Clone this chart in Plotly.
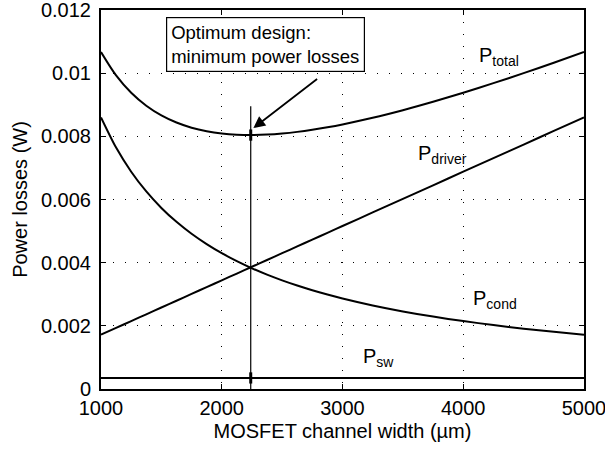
import plotly.graph_objects as go

# MOSFET channel width (um) and the loss components (W) read at each width
width_um = [1000, 1125, 1250, 1375, 1500, 1625, 1750, 1875, 2000, 2125, 2250, 2375, 2500,
            2625, 2750, 2875, 3000, 3250, 3500, 3750, 4000, 4250, 4500, 4750, 5000]
p_cond = [0.008600, 0.007644, 0.006880, 0.006255, 0.005733, 0.005292, 0.004914, 0.004587,
          0.004300, 0.004047, 0.003822, 0.003621, 0.003440, 0.003276, 0.003127, 0.002991,
          0.002867, 0.002646, 0.002457, 0.002293, 0.002150, 0.002024, 0.001911, 0.001811,
          0.001720]
p_driver = [0.001720, 0.001935, 0.002150, 0.002365, 0.002580, 0.002795, 0.003010, 0.003225,
            0.003440, 0.003655, 0.003870, 0.004085, 0.004300, 0.004515, 0.004730, 0.004945,
            0.005160, 0.005590, 0.006020, 0.006450, 0.006880, 0.007310, 0.007740, 0.008170,
            0.008600]
p_sw = [0.00035] * len(width_um)
p_total = [0.010670, 0.009929, 0.009380, 0.008970, 0.008663, 0.008437, 0.008274, 0.008162,
           0.008090, 0.008052, 0.008042, 0.008056, 0.008090, 0.008141, 0.008207, 0.008286,
           0.008377, 0.008586, 0.008827, 0.009093, 0.009380, 0.009684, 0.010001, 0.010331,
           0.010670]

# optimum width and the marker line drawn there
opt_width = 2240
opt_total = 0.00804
opt_sw = 0.00035
opt_line_top = 0.00895

x_ticks = [1000, 2000, 3000, 4000, 5000]
y_ticks = [0, 0.002, 0.004, 0.006, 0.008, 0.01, 0.012]
y_tick_text = ["0", "0.002", "0.004", "0.006", "0.008", "0.01", "0.012"]

FONT = "Liberation Sans, Arial, Helvetica, sans-serif"
fig = go.Figure()

curve = dict(color="black", width=2, shape="spline", smoothing=0.8)
for ys in (p_total, p_cond, p_driver, p_sw):
    fig.add_trace(go.Scatter(x=width_um, y=ys, mode="lines", line=curve,
                             showlegend=False, hoverinfo="skip"))

# vertical line at the optimum width
fig.add_trace(go.Scatter(x=[opt_width, opt_width], y=[0, opt_line_top], mode="lines",
                         line=dict(color="black", width=1.2), showlegend=False,
                         hoverinfo="skip"))
fig.add_trace(go.Scatter(x=[opt_width, opt_width], y=[opt_total, opt_sw], mode="markers",
                         marker=dict(symbol="line-ns", size=8,
                                     line=dict(color="black", width=3)),
                         showlegend=False, hoverinfo="skip"))

labels = [
    (4300, 0.01052, "P<sub>total</sub>"),
    (3830, 0.00742, "P<sub>driver</sub>"),
    (4265, 0.00283, "P<sub>cond</sub>"),
    (3300, 0.00099, "P<sub>sw</sub>"),
]
for lx, ly, txt in labels:
    fig.add_annotation(x=lx, y=ly, text=txt, showarrow=False,
                       font=dict(family=FONT, size=20, color="black"))

fig.add_annotation(x=2362, y=0.01092, text="Optimum design:<br>minimum power losses",
                   showarrow=False, align="left", bordercolor="black", borderwidth=1.2,
                   borderpad=4, bgcolor="white",
                   font=dict(family=FONT, size=18.5, color="black"))
fig.add_annotation(x=2262, y=0.00826, ax=2802, ay=0.00985, axref="x", ayref="y",
                   text="", showarrow=True, arrowhead=2, arrowsize=1.3, arrowwidth=1.8,
                   arrowcolor="black")

axis_common = dict(showline=True, linecolor="black", linewidth=2, mirror="ticks",
                   ticks="inside", ticklen=5, tickwidth=1, tickcolor="black",
                   showgrid=True, gridcolor="black", gridwidth=1, griddash="1px,11px",
                   zeroline=False, automargin=False, ticklabeloverflow="allow",
                   tickfont=dict(family=FONT, size=20, color="black"),
                   title_font=dict(family=FONT, size=20, color="black"))

fig.update_xaxes(range=[1000, 5000], tickvals=x_ticks, ticktext=[str(v) for v in x_ticks],
                 title_text="MOSFET channel width (\u00b5m)", title_standoff=6,
                 **axis_common)
fig.update_yaxes(range=[0, 0.012], tickvals=y_ticks, ticktext=y_tick_text,
                 title_text="Power losses (W)", title_standoff=8, ticklabelstandoff=4,
                 **axis_common)

fig.update_layout(width=605, height=450, plot_bgcolor="white", paper_bgcolor="white",
                  margin=dict(l=101, r=21, t=10, b=61))

fig.write_html("out.html")
